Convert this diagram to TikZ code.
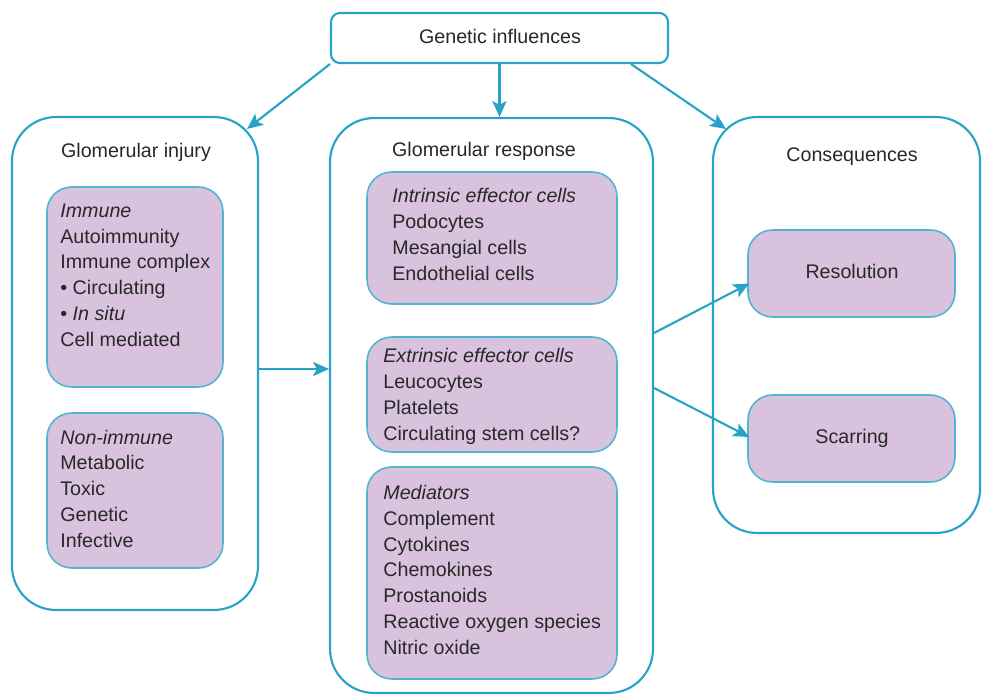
\documentclass[tikz,border=0pt]{standalone}
\usepackage{fontspec}
\setmainfont{Liberation Sans}
\usetikzlibrary{arrows.meta,calc}
\definecolor{lineblue}{RGB}{38,163,198}
\definecolor{boxpurple}{RGB}{217,194,221}
\definecolor{txt}{RGB}{40,40,40}
\begin{document}
\begin{tikzpicture}[x=0.02cm,y=-0.02cm,
  every node/.style={text=txt},
  container/.style={draw=lineblue,line width=1.2pt,fill=white,rounded corners=25pt,inner sep=0pt},
  topbox/.style={draw=lineblue,line width=1.2pt,fill=white,rounded corners=5pt,inner sep=0pt,minimum width=6.74cm,minimum height=1.0cm},
  purplebox/.style={draw=lineblue!80,line width=0.9pt,fill=boxpurple,rounded corners=14pt,inner sep=0pt},
  listtext/.style={anchor=base west,inner sep=0pt,align=left,font=\fontsize{11.2pt}{14.74pt}\selectfont},
  titletext/.style={anchor=base,inner sep=0pt,font=\fontsize{11.2pt}{14.74pt}\selectfont},
  arr/.style={draw=lineblue,line width=1.2pt,-{Stealth[length=9pt,width=8pt,inset=2pt]}}]
\useasboundingbox (0,0) rectangle (982,696);

% containers
\node[topbox] (gen) at (499.5,38) {};
\node[container,minimum width=4.92cm,minimum height=9.86cm] (inj) at (135,363.5) {};
\node[container,minimum width=6.46cm,minimum height=11.5cm] (resp) at (491.5,405.5) {};
\node[container,minimum width=5.34cm,minimum height=8.32cm] (cons) at (846.5,325) {};

% inner boxes
\node[purplebox,minimum width=3.52cm,minimum height=4.0cm] (imm) at (135,287) {};
\node[purplebox,minimum width=3.52cm,minimum height=3.1cm] (nonimm) at (135,490.5) {};
\node[purplebox,minimum width=5.0cm,minimum height=2.64cm] (intr) at (492,238) {};
\node[purplebox,minimum width=5.0cm,minimum height=2.3cm] (extr) at (492,394.5) {};
\node[purplebox,minimum width=5.0cm,minimum height=4.24cm] (med) at (492,573) {};
\node[purplebox,minimum width=4.14cm,minimum height=1.74cm] (resol) at (851.5,273.5) {};
\node[purplebox,minimum width=4.14cm,minimum height=1.74cm] (scar) at (851.5,438.5) {};

% titles
\node[titletext] (tgen) at (500,43.5) {Genetic influences};
\node[titletext] (tinj) at (136,157.6) {Glomerular injury};
\node[titletext] (tresp) at (484,156.6) {Glomerular response};
\node[titletext] (tcons) at (852,161.6) {Consequences};
\node[titletext] (tresol) at (852,278.6) {Resolution};
\node[titletext] (tscar) at (852,443.6) {Scarring};

% lists (base anchor = baseline of the last line)
\node[listtext] (limm) at (60,346.6) {\textit{Immune}\\Autoimmunity\\Immune complex\\• Circulating\\• \textit{In situ}\\Cell mediated};
\node[listtext] (lnon) at (60,547.6) {\textit{Non-immune}\\Metabolic\\Toxic\\Genetic\\Infective};
\node[listtext] (lintr) at (392,280.6) {\textit{Intrinsic effector cells}\\Podocytes\\Mesangial cells\\Endothelial cells};
\node[listtext] (lextr) at (383,440.6) {\textit{Extrinsic effector cells}\\Leucocytes\\Platelets\\Circulating stem cells?};
\node[listtext] (lmed) at (383,654.6) {\textit{Mediators}\\Complement\\Cytokines\\Chemokines\\Prostanoids\\Reactive oxygen species\\Nitric oxide};

% connectors
\draw[arr] (gen.south west) -- ($(inj.north east)+(-12,13)$);
\draw[arr] (gen.south) -- (gen.south |- resp.north);
\draw[arr] ($(gen.south east)+(-38,0)$) -- ($(cons.north west)+(14,13)$);
\coordinate (injout) at ($(inj.east)+(0,5.5)$);
\draw[arr] (injout) -- (injout -| resp.west);
\draw[arr] ($(resp.east)+(0,-72.5)$) -- ($(resol.west)+(2,10)$);
\draw[arr] ($(resp.east)+(0,-17.5)$) -- ($(scar.west)+(2,-1.5)$);
\end{tikzpicture}
\end{document}
